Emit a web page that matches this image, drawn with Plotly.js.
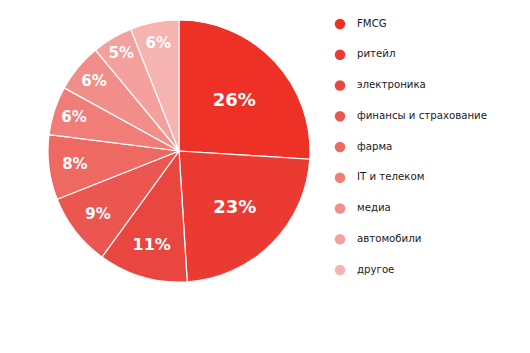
<!DOCTYPE html>
<html>
<head>
<meta charset="utf-8">
<script src="https://cdn.plot.ly/plotly-3.0.1.min.js"></script>
<style>html,body{margin:0;padding:0;background:#fff;}#chart{width:530px;height:353px;}</style>
</head>
<body>
<div id="chart"></div>
<script>
var categories = ["FMCG", "ритейл", "электроника", "финансы и страхование", "фарма", "IT и телеком", "медиа", "автомобили", "другое"];
var values = [26, 23, 11, 9, 8, 6, 6, 5, 6];
var colors = ["#EE3127", "#EB3A32", "#E9463F", "#EB5750", "#ED6962", "#F07D77", "#F28E89", "#F4A19D", "#F6B4B1"];
var labelSizes = [18, 18, 16, 15, 15, 15, 15, 15, 15];
var legendIndex = [0, 1, 2, 3, 4, 5, 6, 7, 8];

var pie = {
  type: "pie",
  values: values,
  labels: categories,
  sort: false,
  direction: "clockwise",
  rotation: 0,
  marker: {colors: colors, line: {color: "#ffffff", width: 1.2}},
  texttemplate: "%{value}%",
  textinfo: "text",
  textposition: "inside",
  insidetextorientation: "horizontal",
  textfont: {color: "#ffffff", family: "DejaVu Sans", size: labelSizes, weight: "bold"},
  domain: {x: [48/530, 310/530], y: [(353-282)/353, (353-20)/353]},
  showlegend: false,
  hoverinfo: "label+percent"
};

var legendMarkers = {
  type: "scatter",
  mode: "markers",
  x: legendIndex.map(function(){return 0;}),
  y: legendIndex,
  marker: {symbol: "circle", size: 10.5, color: colors},
  xaxis: "x", yaxis: "y",
  showlegend: false,
  cliponaxis: false,
  hoverinfo: "skip"
};

var legendText = {
  type: "scatter",
  mode: "text",
  x: legendIndex.map(function(){return 1.7;}),
  y: legendIndex,
  text: categories,
  textposition: "middle right",
  textfont: {family: "DejaVu Sans", size: 10.2, color: "#1a1a1a"},
  xaxis: "x", yaxis: "y",
  showlegend: false,
  cliponaxis: false,
  hoverinfo: "skip"
};

var layout = {
  width: 530, height: 353,
  margin: {l: 0, r: 0, t: 0, b: 0},
  paper_bgcolor: "#ffffff",
  plot_bgcolor: "rgba(0,0,0,0)",
  showlegend: false,
  xaxis: {domain: [320/530, 1], range: [-2, 19], visible: false, fixedrange: true},
  yaxis: {domain: [0, 1], range: [10.699, -0.780], visible: false, fixedrange: true}
};

Plotly.newPlot("chart", [pie, legendMarkers, legendText], layout, {displayModeBar: false, staticPlot: true});
</script>
</body>
</html>
